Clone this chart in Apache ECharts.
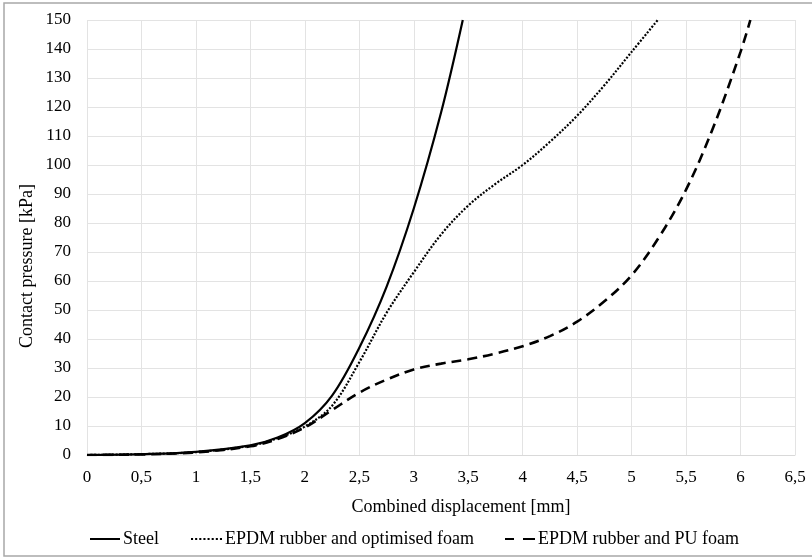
<!DOCTYPE html>
<html>
<head>
<meta charset="utf-8">
<title>Contact pressure</title>
<script src="https://cdn.jsdelivr.net/npm/echarts@6/dist/echarts.min.js"></script>
<style>
  html, body { margin: 0; padding: 0; background: #fff; }
  #main { width: 812px; height: 558px; }
</style>
</head>
<body>
<div id="main"></div>
<script>
// values
const steelX = [0, 0.5, 1, 1.5, 1.75, 2, 2.25, 2.5, 2.75, 3, 3.25, 3.45]
const steelY = [0, 0.3, 1.1, 3.3, 6, 11, 20.5, 37, 58, 85, 118, 150]

const optFoamX = [0, 0.5, 1, 1.5, 1.75, 2, 2.25, 2.5, 2.75, 3, 3.25, 3.5, 3.75, 4, 4.25, 4.5, 4.75, 5, 5.24]
const optFoamY = [0, 0.3, 1, 3.2, 5.8, 9.8, 17, 32, 49, 63, 76, 86, 93.5, 100, 108, 117, 127.5, 139, 150]

const puFoamX = [0, 0.5, 1, 1.5, 1.75, 2, 2.25, 2.5, 2.75, 3, 3.25, 3.5, 3.75, 4, 4.25, 4.5, 4.75, 5, 5.25, 5.5, 5.75, 6, 6.09]
const puFoamY = [0, 0.2, 0.9, 3, 5.5, 9.5, 15.5, 21.5, 26, 29.5, 31.5, 33, 35, 37.5, 41, 46, 53, 62, 75, 91.5, 113, 139, 150]

const seriesNames = ['Steel', 'EPDM rubber and optimised foam', 'EPDM rubber and PU foam']
const xTicks = ['0', '0,5', '1', '1,5', '2', '2,5', '3', '3,5', '4', '4,5', '5', '5,5', '6', '6,5']

const FONT = '"Liberation Serif", "Times New Roman", serif'
const pairs = (xs, ys) => xs.map((x, i) => [x, ys[i]])

// legend icons drawn as paths so the dash pattern shows like in the picture
const solidIcon = 'path://M0,0h30v2h-30z'
const dottedIcon = 'path://' + [0, 4, 8, 12, 16, 20, 24, 28].map(x => 'M' + x + ',0h2v2h-2z').join(' ')
const dashedIcon = 'path://M0,0h9v2h-9z M18,0h12v2h-12z'

const chart = echarts.init(document.getElementById('main'))

// one legend per item so each sits where it does in the picture
const legendAt = (name, icon, left, width) => ({
  data: [{ name: name, icon: icon }],
  left: left,
  top: 530,
  padding: 0,
  itemWidth: width,
  itemHeight: 2.2,
  itemGap: 3,
  itemStyle: { color: '#000', borderWidth: 0 },
  textStyle: { fontFamily: FONT, fontSize: 18, color: '#000', padding: [0, 0, 0, -2] }
})

chart.setOption({
  animation: false,
  backgroundColor: '#fff',
  textStyle: { fontFamily: FONT, color: '#000' },
  grid: { left: 87, right: 17, top: 20, bottom: 103 },
  legend: [
    legendAt(seriesNames[0], solidIcon, 90, 30),
    legendAt(seriesNames[1], dottedIcon, 191, 31),
    legendAt(seriesNames[2], dashedIcon, 505, 30)
  ],
  xAxis: {
    type: 'value',
    min: 0,
    max: 6.5,
    interval: 0.5,
    axisLine: { show: true, lineStyle: { color: '#d9d9d9', width: 1 } },
    axisTick: { show: false },
    splitLine: { show: true, lineStyle: { color: '#e3e3e3', width: 1 } },
    axisLabel: {
      margin: 14,
      fontFamily: FONT,
      fontSize: 17,
      color: '#000',
      formatter: v => xTicks[Math.round(v * 2)]
    }
  },
  yAxis: {
    type: 'value',
    min: 0,
    max: 150,
    interval: 10,
    axisLine: { show: false },
    axisTick: { show: false },
    splitLine: { show: true, lineStyle: { color: '#e3e3e3', width: 1 } },
    axisLabel: { margin: 16, fontFamily: FONT, fontSize: 17, color: '#000' }
  },
  graphic: [
    {
      type: 'rect',
      shape: { x: 4, y: 3, width: 900, height: 553 },
      style: { fill: 'none', stroke: '#a8a8a8', lineWidth: 1.5 },
      silent: true
    },
    {
      type: 'text',
      x: 27,
      y: 266,
      rotation: Math.PI / 2,
      style: {
        text: 'Contact pressure [kPa]',
        font: '18px ' + FONT,
        fill: '#000',
        align: 'center',
        verticalAlign: 'middle'
      }
    },
    {
      type: 'text',
      x: 461,
      y: 507,
      style: {
        text: 'Combined displacement [mm]',
        font: '18px ' + FONT,
        fill: '#000',
        align: 'center',
        verticalAlign: 'middle'
      }
    }
  ],
  series: [
    {
      name: seriesNames[0],
      type: 'line',
      smooth: 0.35,
      showSymbol: false,
      symbol: 'none',
      lineStyle: { color: '#000', width: 2.2, type: 'solid' },
      itemStyle: { color: '#000' },
      data: pairs(steelX, steelY)
    },
    {
      name: seriesNames[1],
      type: 'line',
      smooth: 0.35,
      showSymbol: false,
      symbol: 'none',
      lineStyle: { color: '#000', width: 2.2, type: [2, 1.6] },
      itemStyle: { color: '#000' },
      data: pairs(optFoamX, optFoamY)
    },
    {
      name: seriesNames[2],
      type: 'line',
      smooth: 0.35,
      showSymbol: false,
      symbol: 'none',
      lineStyle: { color: '#000', width: 2.6, type: [10, 6] },
      itemStyle: { color: '#000' },
      data: pairs(puFoamX, puFoamY)
    }
  ]
})
</script>
</body>
</html>
